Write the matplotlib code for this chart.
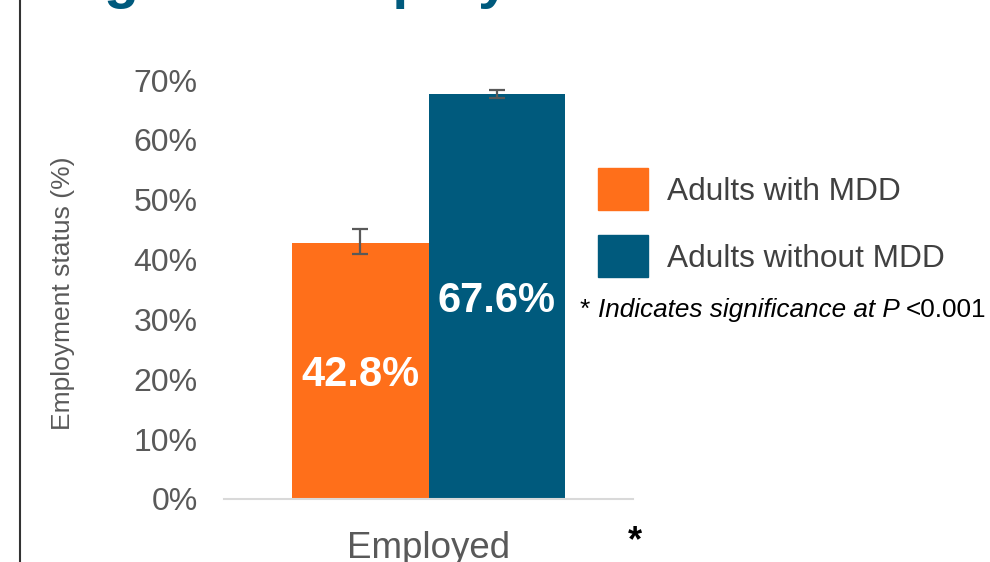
import matplotlib
matplotlib.use('Agg')
import matplotlib.pyplot as plt
from matplotlib.lines import Line2D
from matplotlib.patches import Rectangle

plt.rcParams['font.family'] = ['Liberation Sans', 'DejaVu Sans']

# data
groups = ['Adults with MDD', 'Adults without MDD']
employed = [42.8, 67.6]
err_up = [2.3, 0.7]
err_down = [1.8, 0.6]
colors = ['#FF6F1A', '#005A7D']
category = 'Employed'
yticks = [0, 10, 20, 30, 40, 50, 60, 70]

fig = plt.figure(figsize=(9.9, 5.62), dpi=100)
ax = fig.add_axes([224 / 990, 63 / 562, 409 / 990, 419 / 562])

width = 0.333
xs = [-width / 2, width / 2]
for x, v, lo, hi, c in zip(xs, employed, err_down, err_up, colors):
    ax.bar(x, v, width=width, color=c, zorder=2)
    ax.errorbar(x, v, yerr=[[lo], [hi]], fmt='none', ecolor='#595959',
                elinewidth=1.6, capsize=6, capthick=1.6, zorder=3)
    # white bold value label, roughly centred in the bar
    ax.text(x, v / 2 - 2.5, f'{v:.1f}%', ha='center', va='baseline',
            color='white', fontsize=30, fontweight='bold', zorder=4)

ax.set_xlim(-0.5, 0.5)
ax.set_ylim(0, 70)
ax.set_yticks(yticks)
ax.set_yticklabels([f'{t}%' for t in yticks])
ax.set_xticks([])
ax.tick_params(axis='y', length=0, pad=19, labelsize=23, labelcolor='#595959')
for s in ['top', 'right', 'left']:
    ax.spines[s].set_visible(False)
ax.spines['bottom'].set_color('#D9D9D9')
ax.spines['bottom'].set_linewidth(1.5)

fig.text(63 / 990, 1 - 293 / 562, 'Employment status (%)', rotation=90,
         ha='center', va='center', fontsize=19, color='#595959')
fig.text(429 / 990, 1 - 548 / 562, category, ha='center', va='center',
         fontsize=26.5, color='#595959')
fig.text(635 / 990, 1 - 542 / 562, '*', ha='center', va='center',
         fontsize=26, color='black', fontweight='bold')

# legend drawn as boxes and texts
leg_y = [189, 256]
for g, c, y in zip(groups, colors, leg_y):
    fig.patches.append(Rectangle((598 / 990, 1 - (y + 20.5) / 562), 50 / 990, 41 / 562,
                                 transform=fig.transFigure, color=c))
    fig.text(667 / 990, 1 - (y + 3) / 562, g, ha='left', va='center',
             fontsize=22.8, color='#404040')

# footnote: italic part, then upright p-value right after it
note = fig.text(580 / 990, 1 - 310 / 562, '* ', ha='left', va='center',
                fontsize=18.8, color='black')
ann1 = plt.annotate('Indicates significance at P ', xy=(1, 0), xycoords=note,
                    ha='left', va='bottom', fontsize=18.8, color='black',
                    style='italic', annotation_clip=False)
plt.annotate('<0.001', xy=(1, 0), xycoords=ann1, ha='left', va='bottom',
             fontsize=18.8, color='black', annotation_clip=False)

# cut-off slide title and left border
fig.text(47 / 990, 1 + 3 / 562, 'Big hit to employment', ha='left', va='baseline',
         fontsize=41, fontweight='bold', color='#005A7D')
fig.add_artist(Line2D([20 / 990, 20 / 990], [0, 1], transform=fig.transFigure,
                      color='#333333', linewidth=1.5))

fig.savefig('out.png', dpi=100)
